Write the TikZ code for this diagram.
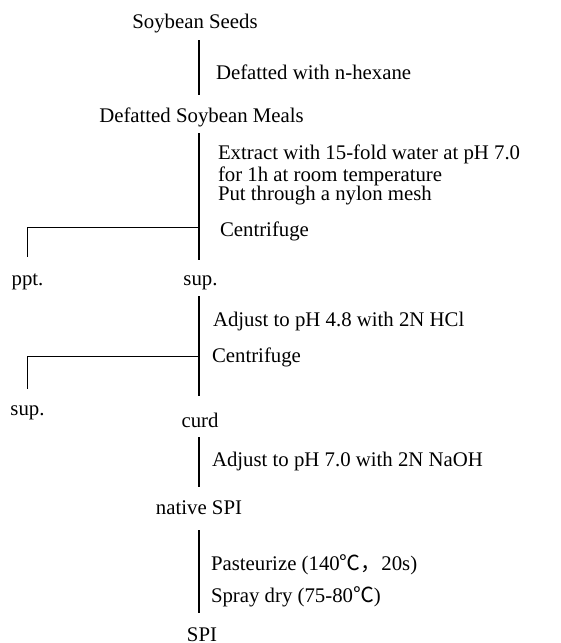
\documentclass[tikz,border=0pt]{standalone}
\usepackage{fontspec}
\setmainfont{Liberation Serif}
\newfontfamily\cjk{Noto Sans CJK SC}
\usepackage{tikz}

\tikzset{
	stage/.style={inner sep=0pt, outer sep=0pt, text height=7.1pt, text depth=2.3pt, anchor=base},
	note/.style={inner sep=0pt, outer sep=0pt, anchor=base west, align=left},
	link/.style={line width=0.6pt}
}

\begin{document}
\begin{tikzpicture}[x=0.5pt,y=-0.5pt,font=\fontsize{10.4}{9.5}\selectfont]
	  \useasboundingbox (0,0) rectangle (561,643);
	  % Products of each step
	  \node[stage] (seeds) at (195,28) {Soybean Seeds};
	  \node[stage] (meals) at (201.5,122.7) {Defatted Soybean Meals};
	  \node[stage] (ppt) at (27.5,285) {ppt.};
	  \node[stage] (sup) at (200.5,285) {sup.};
	  \node[stage] (sup2) at (27.5,415) {sup.};
	  \node[stage] (curd) at (200,427.7) {curd};
	  \node[stage] (native) at (199,514) {native SPI};
	  \node[stage, text depth=0pt] (spi) at (202,641) {SPI};
	  % Treatments (base west of a block is on its last line)
	  \node[note] (defat) at (216,79) {Defatted with n-hexane};
	  \node[note] (extract) at (218,200) {Extract with 15-fold water at pH 7.0\\for 1h at room temperature\\Put through a nylon mesh};
	  \node[note] (cf1) at (220,236) {Centrifuge};
	  \node[note] (acid) at (213,326.7) {Adjust to pH 4.8 with 2N HCl};
	  \node[note] (cf2) at (212,362.7) {Centrifuge};
	  \node[note] (base) at (212,466.7) {Adjust to pH 7.0 with 2N NaOH};
	  \node[note] (heat) at (211,570) {Pasteurize (140{\cjk ℃，}20s)};
	  \node[note] (dry) at (211,602.3) {Spray dry (75-80{\cjk ℃})};
	  % Main line of the flow
	  \coordinate (spine) at (199,0);
	  \draw[link, shorten <=3.75pt, shorten >=6.75pt] (seeds.south -| spine) -- (meals.north -| spine);
	  \draw[link, shorten <=2.9pt, shorten >=5.4pt] (meals.south -| spine) -- (sup.north -| spine);
	  \draw[link, shorten <=3.25pt, shorten >=8.75pt] (sup.south -| spine) -- (curd.north -| spine);
	  \draw[link, shorten <=2.4pt, shorten >=6.4pt] (curd.south -| spine) -- (native.north -| spine);
	  \draw[link, shorten <=5.75pt, shorten >=7pt] (native.south -| spine) -- (spi.north -| spine);
	  % Side branches
	  \coordinate (split1) at (199,227.3);
	  \coordinate (split2) at (199,356.7);
	  \draw[link, shorten >=6.9pt] (split1) -| (ppt.north);
	  \draw[link, shorten >=5.9pt] (split2) -| (sup2.north);
\end{tikzpicture}
\end{document}
